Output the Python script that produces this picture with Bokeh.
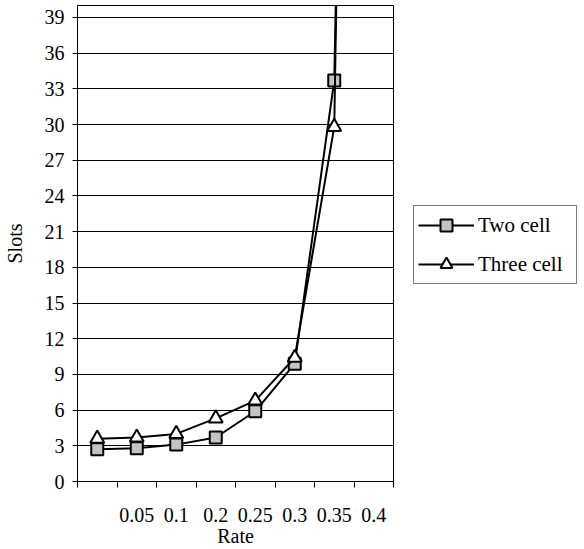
from bokeh.plotting import figure
from bokeh.models import FixedTicker, Range1d, Legend, LegendItem
from bokeh.layouts import row
from bokeh.embed import file_html
from bokeh.resources import INLINE

rate_labels = ["", "0.05", "0.1", "0.2", "0.25", "0.3", "0.35", "0.4"]
two_cell = [2.7, 2.8, 3.1, 3.7, 5.9, 9.9, 33.7, 200]
three_cell = [3.6, 3.7, 4.0, 5.3, 6.8, 10.4, 29.8, 230]
series_names = ["Two cell", "Three cell"]
y_ticks = list(range(0, 40, 3))

FONT = "Liberation Serif"
FS = "20px"

xs = list(range(len(rate_labels)))

p = figure(width=394, height=549, output_backend="svg", toolbar_location=None,
           x_range=Range1d(-0.5, len(rate_labels) - 0.5), y_range=Range1d(0, 40),
           min_border_left=77, min_border_right=1, min_border_top=5, min_border_bottom=10)
p.background_fill_color = "white"
p.outline_line_color = "black"
p.outline_line_width = 1

# grid
p.xgrid.visible = False
p.ygrid.ticker = FixedTicker(ticks=y_ticks)
p.ygrid.grid_line_color = "black"
p.ygrid.grid_line_width = 1

# y axis
p.yaxis.ticker = FixedTicker(ticks=y_ticks)
p.yaxis.axis_label = "Slots"
p.yaxis.major_tick_out = 5
p.yaxis.major_tick_in = 0
p.yaxis.minor_tick_out = 0
p.yaxis.major_label_standoff = 8
p.yaxis.axis_label_standoff = 16

# x axis
p.xaxis.ticker = FixedTicker(ticks=xs, minor_ticks=[i - 0.5 for i in range(len(rate_labels) + 1)])
p.xaxis.major_label_overrides = {i: lab for i, lab in zip(xs, rate_labels)}
p.xaxis.axis_label = "Rate"
p.xaxis.major_tick_out = 0
p.xaxis.major_tick_in = 0
p.xaxis.minor_tick_out = 6
p.xaxis.minor_tick_in = 0
p.xaxis.major_label_standoff = 20
p.xaxis.axis_label_standoff = 0

for ax in (p.xaxis, p.yaxis):
    ax.axis_line_color = "black"
    ax.major_tick_line_color = "black"
    ax.minor_tick_line_color = "black"
    ax.major_label_text_font = FONT
    ax.major_label_text_font_size = FS
    ax.major_label_text_color = "black"
    ax.axis_label_text_font = FONT
    ax.axis_label_text_font_size = FS
    ax.axis_label_text_font_style = "normal"
    ax.axis_label_text_color = "black"

sq_style = dict(marker="square", size=12, fill_color="#c4c4c4", line_color="black", line_width=2)
tri_style = dict(marker="triangle", size=14, fill_color="white", line_color="black", line_width=2)

p.line(xs, two_cell, line_color="black", line_width=2)
p.scatter(xs, two_cell, **sq_style)
p.line(xs, three_cell, line_color="black", line_width=2)
p.scatter(xs, three_cell, **tri_style)

# legend panel (separate figure to the right of the plot); its proxy glyphs
# sit outside its visible range so only the legend samples show
p2 = figure(width=190, height=549, output_backend="svg", toolbar_location=None,
            x_axis_type=None, y_axis_type=None,
            x_range=Range1d(0, 1), y_range=Range1d(0, 1),
            min_border_left=0, min_border_right=0, min_border_top=0, min_border_bottom=0)
p2.outline_line_color = None
p2.xgrid.visible = False
p2.ygrid.visible = False
off = [-10]
dl1 = p2.line(off, off, line_color="black", line_width=2)
dm1 = p2.scatter(off, off, **sq_style)
dl2 = p2.line(off, off, line_color="black", line_width=2)
dm2 = p2.scatter(off, off, **tri_style)

legend = Legend(items=[LegendItem(label=series_names[0], renderers=[dl1, dm1]),
                       LegendItem(label=series_names[1], renderers=[dl2, dm2])],
                location=(19, 197))
legend.label_text_font = FONT
legend.label_text_font_size = "21px"
legend.label_text_color = "black"
legend.border_line_color = "black"
legend.border_line_width = 1
legend.background_fill_alpha = 1
legend.padding = 4
legend.spacing = 9
legend.glyph_width = 56
legend.glyph_height = 30
legend.label_height = 30
legend.label_width = 94
legend.label_standoff = 4
legend.margin = 0
p2.add_layout(legend, "center")

layout = row(p, p2, spacing=0)
open("out.html", "w").write(file_html(layout, INLINE))
